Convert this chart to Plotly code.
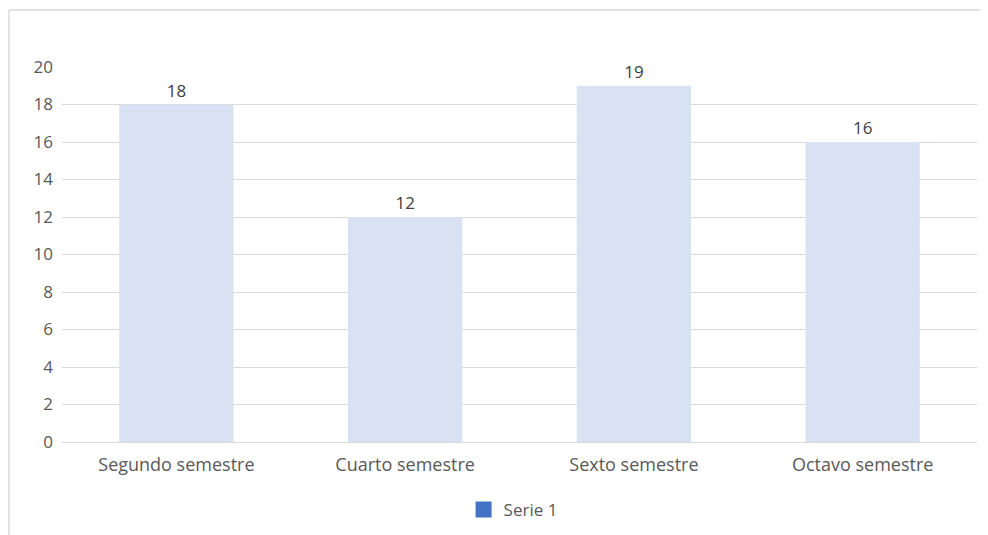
import plotly.graph_objects as go

categories = ["Segundo semestre", "Cuarto semestre", "Sexto semestre", "Octavo semestre"]
values = [18, 12, 19, 16]
series_name = "Serie 1"
y_ticks = [0, 2, 4, 6, 8, 10, 12, 14, 16, 18, 20]

# the page body has an 8px margin, so the figure is sized to the visible area
W, H = 980, 527
L, R, T, B = 54, 11, 59, 93
pw, ph = W - L - R, H - T - B

font = dict(family="Open Sans, Liberation Sans, sans-serif", size=17, color="#595959")

fig = go.Figure()
fig.add_trace(go.Bar(
    x=categories, y=values, marker=dict(color="#D9E2F3", line=dict(width=0)),
    text=values, textposition="outside", textfont=dict(size=17, color="#404040"),
    cliponaxis=False, showlegend=False, name=series_name,
))
fig.add_trace(go.Scatter(
    x=[None], y=[None], mode="markers", name=series_name,
    marker=dict(symbol="square", size=16, color="#4472C4"),
    showlegend=True,
))

frame = dict(color="#D9D9D9", width=1.5)
x_left = (1 - L) / pw
x_right = (W + 3 - L) / pw
y_top = (ph - (2 - T)) / ph
y_bot = (ph - (H + 3 - T)) / ph

fig.update_layout(
    width=W, height=H,
    margin=dict(l=L, r=R, t=T, b=B, autoexpand=False),
    paper_bgcolor="white", plot_bgcolor="white",
    font=font,
    bargap=0.5,
    legend=dict(orientation="h", x=0.493, xanchor="center", y=(ph - (502 - T)) / ph,
                yanchor="middle", font=dict(size=17, color="#595959"),
                bgcolor="rgba(0,0,0,0)"),
    xaxis=dict(showgrid=False, showline=False, ticks="", ticklabelstandoff=10,
               automargin=False, tickfont=dict(size=18)),
    yaxis=dict(range=[0, 20], tickvals=y_ticks, showgrid=True, gridcolor="#D9D9D9",
               gridwidth=1, zeroline=True, zerolinecolor="#D9D9D9", zerolinewidth=1,
               showline=False, ticks="", ticklabelstandoff=8, automargin=False),
    shapes=[
        dict(type="line", xref="paper", yref="paper", x0=x_left, x1=x_right,
             y0=y_top, y1=y_top, line=frame, layer="below"),
        dict(type="line", xref="paper", yref="paper", x0=x_left, x1=x_left,
             y0=y_top, y1=y_bot, line=frame, layer="below"),
    ],
)

fig.write_html("out.html")
